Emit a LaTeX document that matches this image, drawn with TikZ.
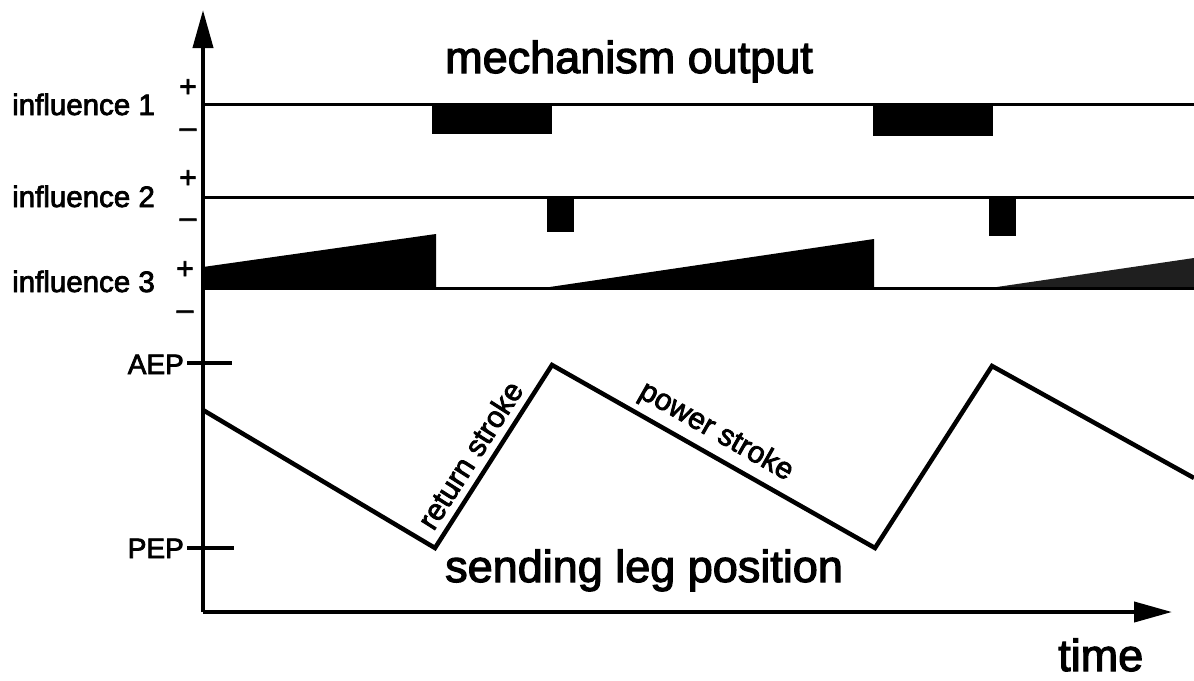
\documentclass[tikz,border=0pt]{standalone}
\usepackage{fontspec}
\setmainfont{Liberation Sans}[BoldFont=Liberation Sans, BoldFeatures={FakeBold=2.6}]
\usetikzlibrary{arrows.meta}
\begin{document}
\begin{tikzpicture}[x=1pt,y=-1pt,
 lbl/.style={inner sep=0pt, anchor=base west, font=\bfseries\fontsize{29.5}{30}\selectfont},
 ep/.style={inner sep=0pt, anchor=base east, font=\bfseries\fontsize{28}{28}\selectfont},
 big/.style={inner sep=0pt, anchor=base west, font=\bfseries\fontsize{45}{46}\selectfont},
 sgn/.style={inner sep=0pt, font=\bfseries\fontsize{30}{30}\selectfont},
 slab/.style={inner sep=0pt, font=\bfseries\fontsize{30}{30}\selectfont},
 axis/.style={line width=4pt, -{Triangle[length=38pt,width=20pt]}},
 sig/.style={line width=3pt},
 tick/.style={line width=4pt},
 leg/.style={line width=4.5pt, line join=miter},
 blk/.style={fill=black, draw=none}]
\useasboundingbox (0,0) rectangle (1194,680);
% axes
\coordinate (O) at (203,612);
\coordinate (Ytop) at (203,10);
\coordinate (Xend) at (1172,612);
\draw[axis] (O) -- (Ytop);
\draw[axis] (O) -- (Xend);
% titles
\node[big] (title) at (445,73) {mechanism output};
\node[big] (legtitle) at (445,582) {sending leg position};
\node[big] (time) at (1058,671) {time};
% influence labels
\node[lbl] (i1) at (12,115) {influence 1};
\node[lbl] (i2) at (12,207) {influence 2};
\node[lbl] (i3) at (12,292) {influence 3};
\node[sgn] (p1) at (188,88) {+};
\node[sgn] (m1) at (188,133) {–};
\node[sgn] (p2) at (188,179) {+};
\node[sgn] (m2) at (188,223) {–};
\node[sgn] (p3) at (185,270) {+};
\node[sgn] (m3) at (185,315) {–};
% influence 1
\fill[blk] (432,104) rectangle (552,134);
\fill[blk] (873,104) rectangle (993,136);
\coordinate (a1) at (203,104);
\coordinate (b1) at (1194,104);
\draw[sig] (a1) -- (b1);
% influence 2
\fill[blk] (547,197) rectangle (574,232);
\fill[blk] (989,197) rectangle (1016,236);
\coordinate (a2) at (203,197);
\coordinate (b2) at (1194,197);
\draw[sig] (a2) -- (b2);
% influence 3
\fill[blk] (203,288) -- (203,267) -- (436,234) -- (436,288) -- cycle;
\fill[blk] (543,288) -- (874,239) -- (874,288) -- cycle;
\fill[black!88] (990,288) -- (1194,258) -- (1194,288) -- cycle;
\coordinate (a3) at (203,288);
\coordinate (b3) at (1194,288);
\draw[sig] (a3) -- (b3);
% AEP / PEP
\coordinate (aepL) at (187,363);
\coordinate (aepR) at (232,363);
\coordinate (pepL) at (187,548);
\coordinate (pepR) at (234,548);
\draw[tick] (aepL) -- (aepR);
\draw[tick] (pepL) -- (pepR);
\node[ep] (aep) at (184,374) {AEP};
\node[ep] (pep) at (184,558) {PEP};
% leg position
\coordinate (l0) at (203,410);
\coordinate (l1) at (435,548);
\coordinate (l2) at (552,365);
\coordinate (l3) at (875,548);
\coordinate (l4) at (992,366);
\coordinate (l5) at (1194,478);
\draw[leg] (l0) -- (l1) -- (l2) -- (l3) -- (l4) -- (l5);
\node[slab, rotate=57.4] (rs) at (470,455) {return stroke};
\node[slab, rotate=-29.5] (ps) at (716,432) {power stroke};
\end{tikzpicture}
\end{document}
